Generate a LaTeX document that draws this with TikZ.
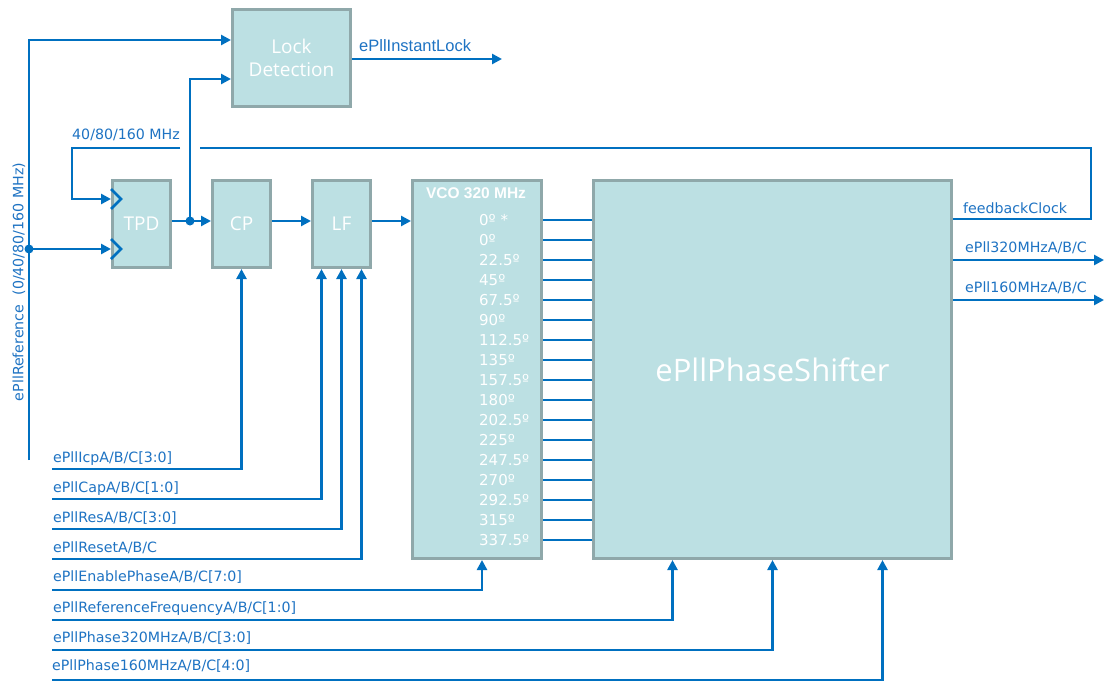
\documentclass[tikz,border=0pt]{standalone}
\usepackage{fontspec}
\usetikzlibrary{arrows.meta}
\newfontfamily\dvfont{DejaVu Sans}
\newfontfamily\arfont{Liberation Sans}
\newfontfamily\osfont{Open Sans}
\definecolor{lnblue}{RGB}{0,112,192}
\definecolor{txblue}{RGB}{30,115,195}
\definecolor{boxfill}{RGB}{188,224,227}
\definecolor{boxline}{RGB}{143,168,170}
\begin{document}
\begin{tikzpicture}[x=1pt,y=-1pt,
  blk/.style={draw=boxline, fill=boxfill, line width=3pt, text=white, inner sep=0pt, align=center},
  blkfont/.style={font=\osfont\fontsize{19}{23}\selectfont},
  wire/.style={draw=lnblue, line width=2.5pt},
  arr/.style={wire, -{Triangle[length=10pt,width=10pt]}},
  lbl/.style={text=txblue, font=\dvfont\fontsize{14.2}{16}\selectfont, inner sep=0pt},
  phl/.style={text=white, font=\dvfont\fontsize{15}{17}\selectfont, inner sep=0pt, anchor=base west}]
\fill[white] (0,0) rectangle (1107,682);
\useasboundingbox (0,0) rectangle (1107,682);

% blocks
\node[blk, blkfont, minimum width=118pt, minimum height=97pt] (ld) at (291.5,58) {Lock\\Detection};
\node[blk, blkfont, minimum width=58pt, minimum height=87pt] (tpd) at (141.5,224) {TPD};
\node[blk, blkfont, minimum width=58pt, minimum height=87pt] (cp) at (241.5,224) {CP};
\node[blk, blkfont, minimum width=58pt, minimum height=87pt] (lf) at (341.5,224) {LF};
\node[blk, minimum width=129pt, minimum height=378pt] (vco) at (477,369.5) {};
\node[blk, font=\osfont\fontsize{31}{36}\selectfont, minimum width=358pt, minimum height=378pt] (ps) at (772.5,369.5) {ePllPhaseShifter};
\node[text=white, font=\arfont\bfseries\fontsize{15.5}{17}\selectfont, inner sep=0pt] (vcot) at (476,193) {VCO 320 MHz};

% phase outputs
\foreach \t [count=\i from 0] in {0º *,0º,22.5º,45º,67.5º,90º,112.5º,135º,157.5º,180º,202.5º,225º,247.5º,270º,292.5º,315º,337.5º}{
  \coordinate (py\i) at (0,220+20*\i);
  \node[phl] (ph\i) at (479,225+20*\i) {\t};
  \draw[wire] (vco.east |- py\i) -- (ps.west |- py\i);
}

% reference input
\coordinate (rtop) at (29,40);
\coordinate (rbot) at (29,460);
\coordinate (rdot) at (29,249);
\draw[arr] (rbot) -- (rtop) -- (ld.west |- rtop);
\draw[arr] (rdot) -- (tpd.west |- rdot);
\fill[lnblue] (rdot) circle (4.5pt);
\node[lbl, rotate=90] (reflbl) at (19,282) {ePllReference\ \ (0/40/80/160 MHz)};

% feedback
\coordinate (fbA) at (1091,219);
\coordinate (fbB) at (1091,148);
\coordinate (gapR) at (200,148);
\coordinate (gapL) at (180,148);
\coordinate (fbC) at (72,148);
\coordinate (fbD) at (72,199);
\draw[wire] (ps.east |- fbA) -- (fbA) -- (fbB) -- (gapR);
\draw[arr] (gapL) -- (fbC) -- (fbD) -- (tpd.west |- fbD);
\node[lbl, anchor=west] (fblbl) at (72,135) {40/80/160 MHz};
\node[lbl, anchor=west] (fbclk) at (963,208) {feedbackClock};

% clock chevrons
\coordinate (c1) at (tpd.west |- fbD);
\coordinate (c2) at (tpd.west |- rdot);
\draw[wire] ([yshift=10pt]c1) -- ([xshift=10pt]c1) -- ([yshift=-10pt]c1);
\draw[wire] ([yshift=10pt]c2) -- ([xshift=10pt]c2) -- ([yshift=-10pt]c2);

% main chain
\coordinate (tdot) at (190,221);
\draw[wire] (tpd.east |- tdot) -- (tdot);
\draw[arr] (tdot) -- (cp.west |- tdot);
\draw[arr] (cp.east |- tdot) -- (lf.west |- tdot);
\draw[arr] (lf.east |- tdot) -- (vco.west |- tdot);
\draw[arr] (tdot) |- ([yshift=-21pt]ld.west);
\fill[lnblue] (tdot) circle (4.5pt);

% lock output
\coordinate (lockEnd) at (502,59);
\draw[arr] (ld.east |- lockEnd) -- (lockEnd);
\node[text=txblue, font=\arfont\fontsize{16.5}{18}\selectfont, anchor=west, inner sep=0pt] (locklbl) at (359,46) {ePllInstantLock};

% outputs
\coordinate (o1) at (1104,260);
\coordinate (o2) at (1104,300);
\draw[arr] (ps.east |- o1) -- (o1);
\draw[arr] (ps.east |- o2) -- (o2);
\node[lbl, anchor=west] (o1lbl) at (965,248) {ePll320MHzA/B/C};
\node[lbl, anchor=west] (o2lbl) at (965,288) {ePll160MHzA/B/C};

% control inputs
\coordinate (s1) at (52,469);
\coordinate (s2) at (52,499);
\coordinate (s3) at (52,529);
\coordinate (s4) at (52,559);
\coordinate (s5) at (52,590);
\coordinate (s6) at (52,620);
\coordinate (s7) at (52,650);
\coordinate (s8) at (52,680);
\node[lbl, anchor=base west] (l1) at ([shift={(1pt,7pt)}]s1) {ePllIcpA/B/C[3:0]};
\node[lbl, anchor=base west] (l2) at ([shift={(1pt,7pt)}]s2) {ePllCapA/B/C[1:0]};
\node[lbl, anchor=base west] (l3) at ([shift={(1pt,7pt)}]s3) {ePllResA/B/C[3:0]};
\node[lbl, anchor=base west] (l4) at ([shift={(1pt,7pt)}]s4) {ePllResetA/B/C};
\node[lbl, anchor=base west] (l5) at ([shift={(1pt,9pt)}]s5) {ePllEnablePhaseA/B/C[7:0]};
\node[lbl, anchor=base west] (l6) at ([shift={(1pt,8pt)}]s6) {ePllReferenceFrequencyA/B/C[1:0]};
\node[lbl, anchor=base west] (l7) at ([shift={(1pt,8pt)}]s7) {ePllPhase320MHzA/B/C[3:0]};
\node[lbl, anchor=base west] (l8) at ([shift={(0pt,10pt)}]s8) {ePllPhase160MHzA/B/C[4:0]};
\draw[arr] (s1) -| (cp.south);
\draw[arr] (s2) -| ([xshift=-20pt]lf.south);
\draw[arr] (s3) -| (lf.south);
\draw[arr] (s4) -| ([xshift=20pt]lf.south);
\draw[arr] (s5) -| ([xshift=5pt]vco.south);
\draw[arr] (s6) -| ([xshift=-100pt]ps.south);
\draw[arr] (s7) -| (ps.south);
\draw[arr] (s8) -| ([xshift=110pt]ps.south);
\end{tikzpicture}
\end{document}
